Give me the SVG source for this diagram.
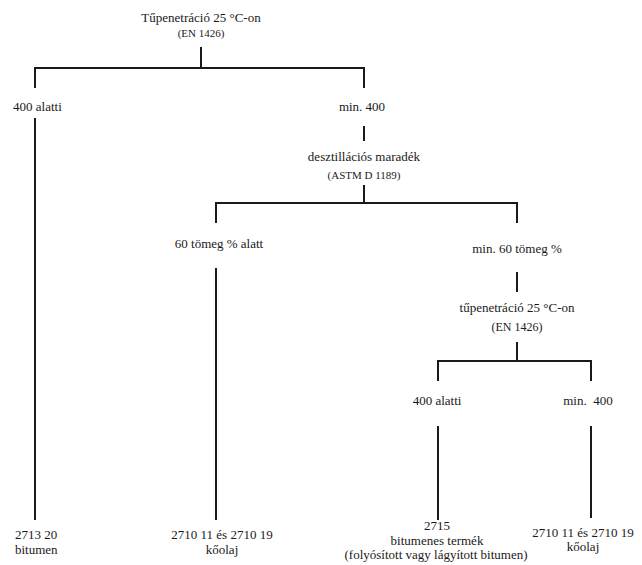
<svg xmlns="http://www.w3.org/2000/svg" width="642" height="565" viewBox="0 0 642 565">
<style>
text{font-family:"Liberation Serif","DejaVu Serif",serif;font-size:13px;fill:#1a1a1a}
.s{font-size:11px}
.s2{font-size:12px}
.m{text-anchor:middle}
.c{fill:none;stroke:#1a1a1a;stroke-width:2}
</style>
<rect width="642" height="565" fill="#fff"/>
<g id="connectors">
<path class="c" d="M201 47V68"/>
<path class="c" d="M35 88V68H364V88"/>
<path class="c" d="M35 118V520"/>
<path class="c" d="M364 126V141"/>
<path class="c" d="M364 185V203"/>
<path class="c" d="M216 223V203H517V223"/>
<path class="c" d="M216 268V520"/>
<path class="c" d="M517 272V292"/>
<path class="c" d="M517 342V361"/>
<path class="c" d="M438 381V361H591V381"/>
<path class="c" d="M438 426V520"/>
<path class="c" d="M591 426V518"/>
</g>
<g id="n-root"><text class="m" x="201" y="22">Tűpenetráció 25 °C-on</text><text class="m s" x="201" y="37">(EN 1426)</text></g>
<g id="n-under400"><text x="13" y="111">400 alatti</text></g>
<g id="n-min400"><text class="m" x="362" y="111">min. 400</text></g>
<g id="n-distill"><text class="m" x="364" y="161">desztillációs maradék</text><text class="m s" x="364" y="179">(ASTM D 1189)</text></g>
<g id="n-under60"><text class="m" x="219" y="248">60 tömeg % alatt</text></g>
<g id="n-min60"><text class="m" x="517" y="253">min. 60 tömeg %</text></g>
<g id="n-pen2"><text class="m" x="517" y="312">tűpenetráció 25 °C-on</text><text class="m s2" x="517" y="331">(EN 1426)</text></g>
<g id="n-under400b"><text class="m" x="437" y="405">400 alatti</text></g>
<g id="n-min400b"><text class="m" x="588" y="405" xml:space="preserve">min.  400</text></g>
<g id="n-bitumen"><text x="15" y="539">2713 20</text><text x="15" y="554">bitumen</text></g>
<g id="n-koolaj1"><text class="m" x="222" y="539">2710 11 és 2710 19</text><text class="m" x="222" y="554">kőolaj</text></g>
<g id="n-2715"><text class="m" x="437" y="530">2715</text><text class="m" x="437" y="545">bitumenes termék</text><text class="m" x="436" y="559">(folyósított vagy lágyított bitumen)</text></g>
<g id="n-koolaj2"><text class="m" x="583" y="537">2710 11 és 2710 19</text><text class="m" x="583" y="551">kőolaj</text></g>
</svg>
